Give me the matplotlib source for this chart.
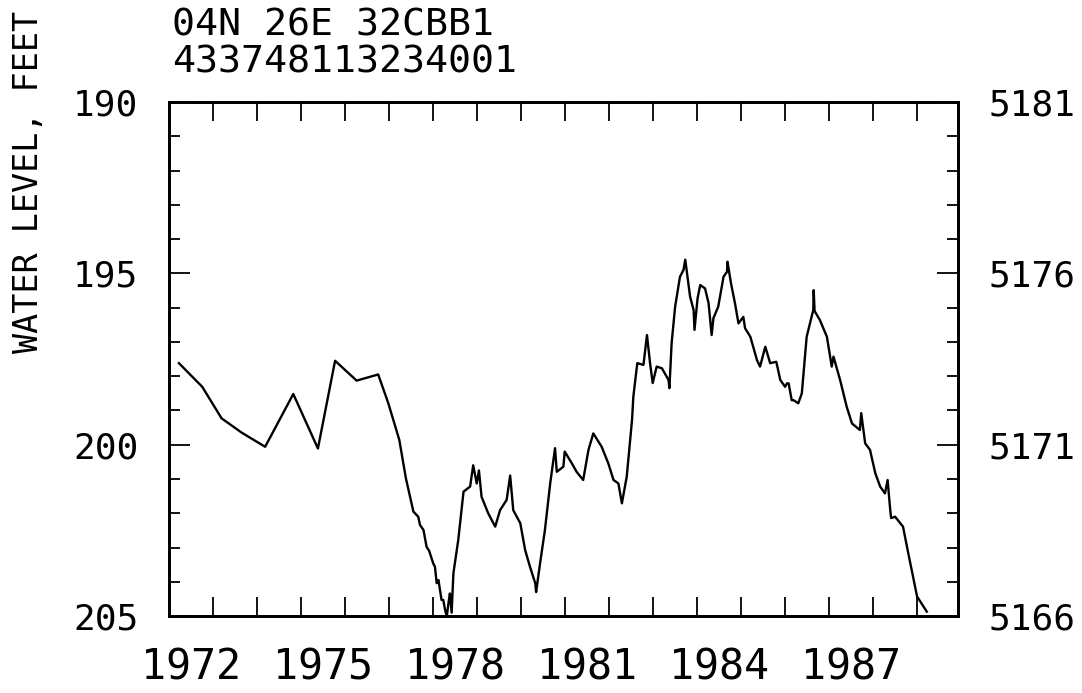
import matplotlib
matplotlib.use('Agg')
import numpy as np
import matplotlib.pyplot as plt
from matplotlib.ticker import MultipleLocator, FixedLocator, NullFormatter

# well ids
site_local = '04N 26E 32CBB1'
site_id = '433748113234001'

# water level below land surface, feet
years = [1972.23, 1972.76, 1973.20, 1973.66, 1974.19, 1974.83, 1975.39, 1975.78,
         1976.27, 1976.76, 1976.99, 1977.24, 1977.39, 1977.56, 1977.67, 1977.71,
         1977.79, 1977.86, 1977.92, 1978.01, 1978.05, 1978.09, 1978.13, 1978.20,
         1978.24, 1978.28, 1978.32, 1978.36, 1978.39, 1978.43, 1978.47, 1978.58,
         1978.70, 1978.85, 1978.92, 1979.00, 1979.05, 1979.11, 1979.26, 1979.42,
         1979.53, 1979.68, 1979.76, 1979.83, 1979.99, 1980.10, 1980.21, 1980.33,
         1980.35, 1980.44, 1980.55, 1980.67, 1980.78, 1980.82, 1980.97, 1981.00,
         1981.16, 1981.27, 1981.42, 1981.54, 1981.65, 1981.84, 1981.99, 1982.11,
         1982.22, 1982.30, 1982.41, 1982.53, 1982.56, 1982.65, 1982.79, 1982.87,
         1982.94, 1983.00, 1983.09, 1983.21, 1983.36, 1983.38, 1983.43, 1983.51,
         1983.62, 1983.70, 1983.74, 1983.79, 1983.85, 1983.93, 1983.95, 1984.02,
         1984.08, 1984.19, 1984.27, 1984.34, 1984.38, 1984.49, 1984.61, 1984.69,
         1984.70, 1984.78, 1984.87, 1984.95, 1985.06, 1985.10, 1985.22, 1985.37,
         1985.44, 1985.56, 1985.67, 1985.81, 1985.90, 1986.01, 1986.05, 1986.09,
         1986.16, 1986.20, 1986.31, 1986.39, 1986.50, 1986.65, 1986.66, 1986.68,
         1986.80, 1986.96, 1987.07, 1987.11, 1987.26, 1987.41, 1987.53, 1987.71,
         1987.74, 1987.83, 1987.94, 1988.06, 1988.17, 1988.28, 1988.34, 1988.40,
         1988.42, 1988.51, 1988.69, 1988.81, 1989.01, 1989.23]
level = [197.62, 198.31, 199.23, 199.65, 200.06, 198.52, 200.11, 197.55,
         198.13, 197.95, 198.79, 199.86, 200.98, 201.95, 202.10, 202.34,
         202.49, 202.98, 203.10, 203.46, 203.56, 204.04, 203.95, 204.53,
         204.53, 204.82, 205.00, 204.60, 204.34, 204.90, 203.75, 202.78,
         201.37, 201.22, 200.60, 201.13, 200.75, 201.52, 202.00, 202.39,
         201.91, 201.61, 200.90, 201.91, 202.29, 203.07, 203.56, 204.04,
         204.30, 203.46, 202.49, 201.13, 200.10, 200.79, 200.64, 200.20,
         200.54, 200.79, 201.03, 200.15, 199.67, 200.06, 200.54, 201.03,
         201.13, 201.71, 200.93, 199.28, 198.60, 197.62, 197.67, 196.80,
         197.62, 198.20, 197.72, 197.77, 198.11, 198.35, 197.04, 195.97,
         195.10, 194.90, 194.60, 195.10, 195.68, 196.07, 196.65, 195.73,
         195.34, 195.44, 195.87, 196.80, 196.31, 195.97, 195.10, 194.95,
         194.66, 195.29, 195.87, 196.46, 196.27, 196.60, 196.85, 197.53,
         197.72, 197.14, 197.62, 197.58, 198.11, 198.31, 198.21, 198.21,
         198.70, 198.70, 198.79, 198.50, 196.85, 196.07, 195.49, 196.10,
         196.36, 196.85, 197.72, 197.43, 198.11, 198.89, 199.38, 199.57,
         199.08, 199.96, 200.15, 200.83, 201.22, 201.42, 201.03, 201.91,
         202.14, 202.10, 202.39, 203.17, 204.43, 204.87]

land_surface = 5371
year_labels = [1972, 1975, 1978, 1981, 1984, 1987]

plt.rcParams['font.family'] = 'DejaVu Sans Mono'

fig = plt.figure(figsize=(10.82, 6.93), dpi=100)
ax = fig.add_axes([0.156, 0.111, 0.7298, 0.7418])

ax.plot(years, level, color='black', lw=1.7)
ax.set_xlim(1972, 1989.95)
ax.set_ylim(205, 190)

# x: a tick per year, labels centred inside the year
ax.xaxis.set_major_locator(MultipleLocator(1))
ax.xaxis.set_major_formatter(NullFormatter())
ax.xaxis.set_minor_locator(FixedLocator([y + 0.5 for y in year_labels]))
ax.set_xticklabels([str(y) for y in year_labels], minor=True)
ax.tick_params(axis='x', which='major', direction='in', length=14, width=1.3,
               top=True, bottom=True)
ax.tick_params(axis='x', which='minor', length=0, pad=22, labelsize=30)

ax.yaxis.set_major_locator(MultipleLocator(5))
ax.yaxis.set_minor_locator(MultipleLocator(1))
ax.tick_params(axis='y', which='major', direction='in', length=15, width=1.3,
               labelsize=26, pad=22)
ax.tick_params(axis='y', which='minor', direction='in', length=8, width=1.3)

# right axis: altitude of water level
ax2 = ax.twinx()
ax2.set_ylim(land_surface - 205, land_surface - 190)
ax2.yaxis.set_major_locator(FixedLocator([land_surface - d for d in (205, 200, 195, 190)]))
ax2.yaxis.set_minor_locator(FixedLocator([land_surface - d for d in range(190, 206)]))
ax2.tick_params(axis='y', which='major', direction='in', length=15, width=1.3,
                labelsize=26, pad=22)
ax2.tick_params(axis='y', which='minor', direction='in', length=8, width=1.3)

for a in (ax, ax2):
    for s in a.spines.values():
        s.set_linewidth(2)

fig.text(0.026, 0.737, 'WATER LEVEL, FEET', rotation=90, fontsize=24,
         ha='center', va='center')
fig.text(0.159, 0.963, site_local, fontsize=27.5, ha='left', va='center')
fig.text(0.159, 0.91, site_id, fontsize=27.5, ha='left', va='center')

fig.savefig('out.png', dpi=100)
